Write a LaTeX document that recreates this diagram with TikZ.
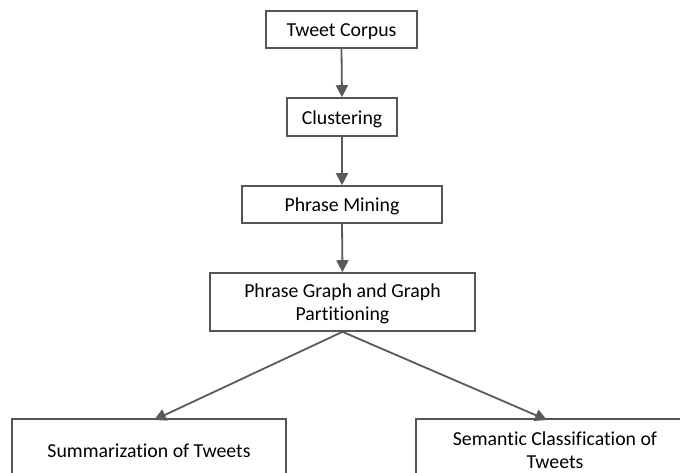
\documentclass[tikz,border=0pt]{standalone}
\usepackage{fontspec}
\setmainfont[Ligatures=NoCommon]{Carlito}
\usetikzlibrary{arrows.meta}
\definecolor{boxline}{HTML}{555555}
\definecolor{arrline}{HTML}{5A5A5A}
\begin{document}
\begin{tikzpicture}[x=1pt,y=-1pt,
  stepbox/.style={draw=boxline,line width=1.6pt,fill=white,inner sep=0pt,
    text height=15.5pt,text depth=1pt,
    font=\fontsize{19.8}{23}\selectfont,align=center,text=black},
  twoline/.style={text height=38.5pt},
  flow/.style={draw=arrline,line width=1.8pt,-{Triangle[width=12pt,length=12pt]}}]
\useasboundingbox (0,0) rectangle (680,472);
\clip (0,0) rectangle (680,472);
\node[stepbox,minimum width=151pt,minimum height=37pt] (tc) at (341.5,29.5) {Tweet Corpus};
\node[stepbox,minimum width=110pt,minimum height=38pt] (cl) at (342,117) {Clustering};
\node[stepbox,minimum width=200pt,minimum height=37pt] (pm) at (342,204.5) {Phrase Mining};
\node[stepbox,twoline,minimum width=265pt,minimum height=58pt] (pg) at (342.5,302) {Phrase Graph and Graph\\Partitioning};
\node[stepbox,minimum width=274pt,minimum height=62pt] (su) at (149,450) {Summarization of Tweets};
\node[stepbox,twoline,minimum width=278pt,minimum height=62pt] (se) at (555,450) {Semantic Classification of\\Tweets};
\coordinate (sutip) at (154,420);
\coordinate (setip) at (547,420);
\draw[flow] (tc.south) -- (cl.north);
\draw[flow] (cl.south) -- (pm.north);
\draw[flow] (pm.south) -- (pg.north);
\draw[flow] (pg.south) -- (sutip);
\draw[flow] (pg.south) -- (setip);
\end{tikzpicture}
\end{document}
